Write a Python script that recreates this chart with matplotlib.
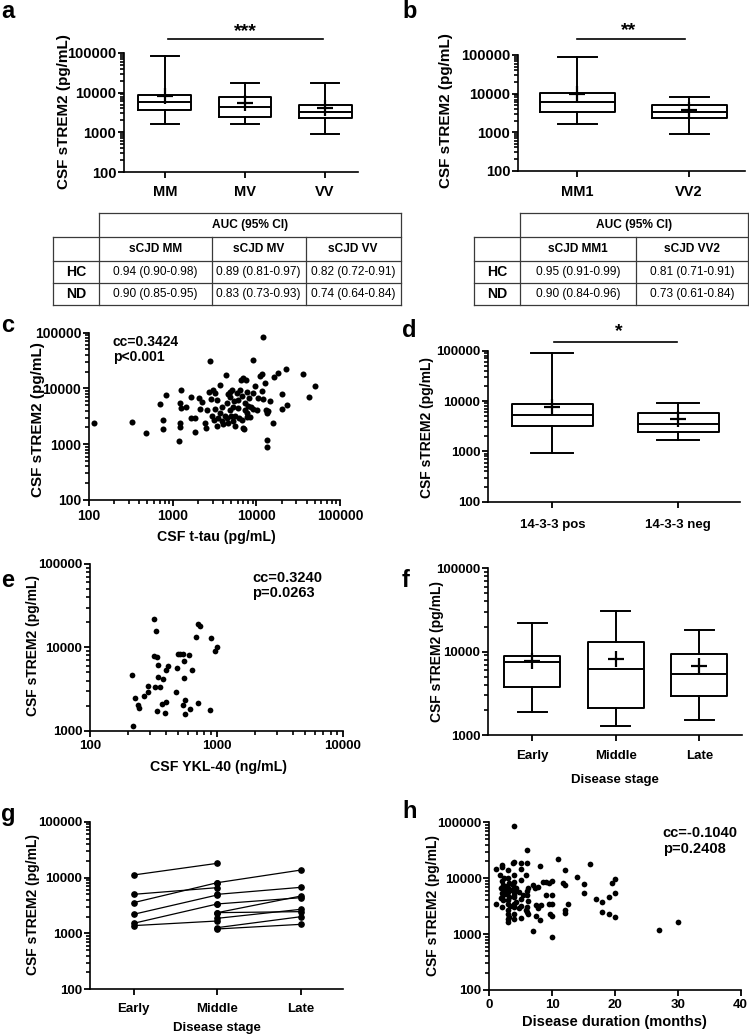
import numpy as np
import matplotlib
matplotlib.use('Agg')
import matplotlib.pyplot as plt
from matplotlib import font_manager
from matplotlib.ticker import NullFormatter, FuncFormatter, FixedLocator

plt.rcParams['font.family'] = ['Liberation Sans', 'DejaVu Sans']
plt.rcParams['font.weight'] = 'bold'
plt.rcParams['axes.labelweight'] = 'bold'
plt.rcParams['axes.linewidth'] = 1.2

# ---- panel a: sTREM2 by codon 129 genotype
a_groups = ['MM', 'MV', 'VV']
a_whislo = [1600, 1620, 890]
a_q1 = [3670, 2500, 2290]
a_med = [5750, 4290, 3200]
a_q3 = [8700, 7650, 4800]
a_whishi = [84000, 17900, 17400]
a_mean = [8400, 5600, 4050]

# ---- panel b: by subtype
b_groups = ['MM1', 'VV2']
b_whislo = [1630, 890]
b_q1 = [3280, 2290]
b_med = [5950, 3280]
b_q3 = [10200, 4980]
b_whishi = [87000, 8300]
b_mean = [9550, 3760]

# ---- AUC tables
ta_cols = ['sCJD MM', 'sCJD MV', 'sCJD VV']
ta_rows = ['HC', 'ND']
ta_cells = [['0.94 (0.90-0.98)', '0.89 (0.81-0.97)', '0.82 (0.72-0.91)'],
            ['0.90 (0.85-0.95)', '0.83 (0.73-0.93)', '0.74 (0.64-0.84)']]
tb_cols = ['sCJD MM1', 'sCJD VV2']
tb_rows = ['HC', 'ND']
tb_cells = [['0.95 (0.91-0.99)', '0.81 (0.71-0.91)'],
            ['0.90 (0.84-0.96)', '0.73 (0.61-0.84)']]
auc_header = 'AUC (95% CI)'

# ---- panel c: t-tau vs sTREM2
c_tau = [116, 327, 476, 706, 773, 773, 825, 1180, 1260, 1235,
         1260, 1235, 1235, 1445, 1655, 1655, 1850, 1850, 2080, 2120,
         2220, 2430, 2500, 2740, 2790, 2850, 2980, 3060, 3120, 3210,
         3210, 3360, 3515, 3680, 3680, 3855, 4035, 4220, 4340, 4420,
         4540, 4630, 4840, 4980, 5170, 5310, 5460, 5560, 5820, 5980,
         6260, 6500, 6740, 6870, 7000, 7130, 7320, 7460, 7660, 7800,
         7800, 8020, 8250, 8560, 9040, 9210, 9640, 10560, 11060, 11580,
         11800, 11910, 12130, 12700, 12940, 13300, 13530, 13530, 13900, 14560,
         15960, 16260, 18330, 20090, 20090, 22640, 23060, 36460, 42980, 50230,
         2550, 3855, 4840, 5310, 6090, 6680, 8400, 10090, 9210, 3360,
         6380, 7320, 4420, 5560, 4840]
c_trem2 = [2370, 2470, 1610, 5200, 2720, 1850, 7640, 1145, 9270, 5420,
           4530, 2440, 2040, 4720, 6930, 3000, 3000, 1635, 6650, 4290,
           5640, 2440, 1930, 8770, 31500, 6390, 3260, 9390, 2720, 8410,
           4230, 2125, 2915, 11380, 3580, 2610, 2275, 3210, 17420, 5420,
           7850, 2370, 8770, 3210, 9390, 2610, 5960, 2125, 8180, 4400,
           2915, 14190, 7330, 1985, 15200, 1850, 5420, 14190, 8770, 3580,
           3125, 4850, 6650, 4590, 32400, 4230, 11070, 6650, 16720, 17910,
           9140, 85000, 6390, 12700, 4110, 3680, 1190, 906, 4000, 6040,
           2370, 15850, 19190, 7850, 4230, 22030, 5050, 18160, 7130, 11070,
           4110, 4720, 4110, 4720, 6210, 2720, 3125, 4110, 8180, 6210,
           9390, 4110, 2915, 3210, 7130]
c_stats = 'cc=0.3424\np<0.001'

# ---- panel d: 14-3-3
d_groups = ['14-3-3 pos', '14-3-3 neg']
d_whislo = [912, 1655]
d_q1 = [3190, 2460]
d_med = [5190, 3440]
d_q3 = [8590, 5690]
d_whishi = [88500, 9120]
d_mean = [7710, 4390]

# ---- panel e: YKL-40 vs sTREM2
e_ykl = [220, 216, 227, 241, 245, 267, 289, 289, 322, 330,
         322, 336, 342, 342, 326, 357, 336, 368, 379, 396,
         396, 415, 391, 477, 489, 492, 514, 539, 545, 556,
         556, 562, 562, 608, 616, 635, 683, 708, 738, 717,
         886, 897, 970, 1012]
e_trem2 = [1148, 4656, 2443, 2032, 1854, 2606, 3436, 2884, 22080, 15850,
           7940, 7590, 6140, 4446, 3373, 3373, 1738, 2089, 4130, 2188,
           5346, 6026, 1614, 2938, 5598, 8395, 8318, 8395, 2032, 6855,
           4246, 2333, 1585, 8091, 1837, 5346, 13430, 18880, 18030, 2128,
           1786, 13060, 9120, 10000]
e_stats = 'cc=0.3240\np=0.0263'

# ---- panel f: disease stage
f_groups = ['Early', 'Middle', 'Late']
f_whislo = [1888, 1282, 1500]
f_q1 = [3800, 2128, 2965]
f_med = [7450, 6140, 5350]
f_q3 = [8950, 13180, 9290]
f_whishi = [21900, 31050, 18200]
f_mean = [7800, 8090, 6730]

# ---- panel g: longitudinal samples
g_stages = ['Early', 'Middle', 'Late']
g_em_early = [11120, 5010, 3555, 2200, 1518, 1380]
g_em_middle = [17990, 6600, 8100, 4880, 3370, 1670]
g_ml_middle = [8100, 5010, 3370, 2355, 2355, 1865, 1270, 1202]
g_ml_late = [13650, 6690, 4370, 4680, 2455, 2705, 1995, 1456]

# ---- panel h: disease duration vs sTREM2
h_months = [1.0, 1.0,
            2.0, 2.0, 1.7, 2.3, 2.0, 2.2, 1.9, 2.5, 2.0, 2.3, 2.0, 1.8, 2.2, 2.0,
            3.0, 3.0, 3.2, 2.8, 3.0, 3.3, 3.0, 2.8, 3.2, 3.0, 3.0, 3.3, 3.0, 3.0, 3.2, 3.0, 3.0,
            4.0, 4.0, 3.8, 4.0, 4.0, 3.8, 4.2, 4.0, 4.0, 3.9, 4.0, 4.3, 4.0, 4.0, 4.0, 4.0,
            5.0, 5.0, 5.0, 4.8, 5.3, 5.0, 5.0, 4.7, 5.0,
            6.0, 6.0, 5.8, 6.2, 6.0, 6.0, 6.2, 6.0, 5.8, 6.0, 6.2,
            7.0, 7.3, 7.5, 7.0,
            8.0, 8.5, 7.8, 8.2, 7.8, 7.5, 8.0,
            9.0, 9.5, 9.0, 9.5,
            10.0, 10.0, 10.0, 9.6, 10.0, 10.0,
            11.0,
            12.0, 11.8, 12.0, 12.0, 12.0,
            12.5, 14.0, 15.0, 15.0, 16.0, 17.0, 18.0, 18.0, 19.0, 19.0, 19.5,
            20.0, 20.0, 20.0, 27.0, 30.0]
h_trem2 = [14620, 3460,
           17250, 16100, 11420, 9960, 8930, 7570, 6780, 6160, 5520, 5220, 4680, 4370, 4080, 3100,
           14030, 9960, 8110, 7260, 6590, 6160, 5750, 5220, 4680, 4080, 3460, 3230, 2700, 2290, 2050, 1840, 1630,
           87200, 19790, 18480, 11420, 8690, 7570, 6780, 6410, 5750, 5010, 4680, 3810, 3410, 3100, 2260, 1840,
           18480, 14620, 9290, 5600, 5010, 4200, 3230, 2900, 1970,
           31990, 18980, 11420, 6780, 5910, 5010, 3920, 3100, 2700, 2455, 2290,
           7570, 6590, 3320, 1150,
           16560, 8690, 7060, 3320, 2900, 2140, 1790,
           8690, 8110, 5010, 3460,
           9040, 5010, 3460, 2260, 2140, 900,
           22390,
           14030, 8330, 7570, 2700, 2420,
           3460, 10370, 7780, 5520, 17730, 4250, 3710, 2520, 4550, 2290, 8330,
           9550, 5370, 2050, 1190, 1670]
h_stats = 'cc=-0.1040\np=0.2408'

YLABEL = 'CSF sTREM2 (pg/mL)'
FIG_W, FIG_H = 749, 1036

fig = plt.figure(figsize=(FIG_W / 100, FIG_H / 100), dpi=100)


def add_axes_px(x0, y0, x1, y1):
    return fig.add_axes([x0 / FIG_W, 1 - y1 / FIG_H, (x1 - x0) / FIG_W, (y1 - y0) / FIG_H])


def style(ax, size, xpad=3):
    ax.spines['top'].set_visible(False)
    ax.spines['right'].set_visible(False)
    ax.tick_params(which='major', length=4, width=1.3, labelsize=size, color='k')
    ax.tick_params(which='minor', length=3, width=1.2, color='k')
    ax.tick_params(axis='y', which='major', pad=1.5)
    ax.tick_params(axis='x', which='major', pad=xpad)


def log_axis(axis, lo, hi):
    d0, d1 = int(round(np.log10(lo))), int(round(np.log10(hi)))
    majors = [10.0 ** d for d in range(d0, d1 + 1)]
    minors = [k * 10.0 ** d for d in range(d0, d1) for k in range(2, 10)]
    axis.set_major_locator(FixedLocator(majors))
    axis.set_minor_locator(FixedLocator(minors))
    axis.set_major_formatter(FuncFormatter(lambda v, p: '%d' % round(v)))
    axis.set_minor_formatter(NullFormatter())


def set_logy(ax, lo, hi):
    ax.set_yscale('log')
    ax.set_ylim(lo, hi)
    log_axis(ax.yaxis, lo, hi)


def boxes(ax, labels, whislo, q1, med, q3, whishi, mean, width):
    stats = []
    for i in range(len(labels)):
        stats.append(dict(label=labels[i], whislo=whislo[i], q1=q1[i], med=med[i],
                          q3=q3[i], whishi=whishi[i], mean=mean[i], fliers=[]))
    lp = dict(color='k', lw=1.4)
    ax.bxp(stats, positions=range(len(labels)), widths=width, capwidths=width * 0.52,
           showmeans=True, showfliers=False, boxprops=lp, whiskerprops=lp, capprops=lp,
           medianprops=lp,
           meanprops=dict(marker='+', markeredgecolor='k', markersize=11, markeredgewidth=1.6))


def sig_bar(ax, x0, x1, y, stars, xs, ys):
    tr = ax.get_xaxis_transform()
    ax.plot([x0, x1], [y, y], color='k', lw=1.2, transform=tr, clip_on=False)
    ax.text(xs, ys, stars, transform=tr, ha='center', va='baseline', fontsize=14)


def ylab(ax, x, y, size):
    ax.set_ylabel(YLABEL, fontsize=size)
    ax.yaxis.label.set_va('center')
    ax.yaxis.set_label_coords(x, y)


def xlab(ax, text, x, y, size):
    ax.set_xlabel(text, fontsize=size)
    ax.xaxis.label.set_va('center')
    ax.xaxis.set_label_coords(x, y)


# ---------------- a
ax = add_axes_px(124, 53, 358, 172)
boxes(ax, a_groups, a_whislo, a_q1, a_med, a_q3, a_whishi, a_mean, 0.66)
set_logy(ax, 100, 1e5)
ax.set_xlim(-0.51, 2.41)
style(ax, 10.5, xpad=5.5)
ylab(ax, -0.256, 0.508, 11)
sig_bar(ax, 0.04, 1.975, 1.118, '***', 1.0, 1.143)

# ---------------- b
ax = add_axes_px(518, 55, 745, 170.7)
boxes(ax, b_groups, b_whislo, b_q1, b_med, b_q3, b_whishi, b_mean, 0.67)
set_logy(ax, 100, 1e5)
ax.set_xlim(-0.53, 1.5)
style(ax, 10.5, xpad=6)
ylab(ax, -0.318, 0.518, 11)
sig_bar(ax, 0.0, 0.96, 1.138, '**', 0.455, 1.175)

# ---------------- c
ax = add_axes_px(89, 332.7, 340, 500)
ax.scatter(c_tau, c_trem2, s=19, color='k', linewidths=0, clip_on=False, zorder=3)
ax.set_xscale('log')
ax.set_xlim(100, 1e5)
log_axis(ax.xaxis, 100, 1e5)
set_logy(ax, 100, 1e5)
style(ax, 10, xpad=2.5)
ylab(ax, -0.203, 0.48, 11)
xlab(ax, 'CSF t-tau (pg/mL)', 0.506, -0.221, 10.2)
ax.text(0.094, 0.985, c_stats, transform=ax.transAxes, ha='left', va='top',
        fontsize=10, linespacing=1.1)

# ---------------- d
ax = add_axes_px(488, 350.7, 740, 501.7)
boxes(ax, d_groups, d_whislo, d_q1, d_med, d_q3, d_whishi, d_mean, 0.64)
set_logy(ax, 100, 1e5)
ax.set_xlim(-0.51, 1.49)
style(ax, 9.5, xpad=8.5)
ylab(ax, -0.242, 0.49, 10)
sig_bar(ax, 0.01, 0.99, 1.06, '*', 0.524, 1.098)

# ---------------- e
ax = add_axes_px(90, 564, 343, 730.7)
ax.scatter(e_ykl, e_trem2, s=17, color='k', linewidths=0, clip_on=False, zorder=3)
ax.set_xscale('log')
ax.set_xlim(100, 1e4)
log_axis(ax.xaxis, 100, 1e4)
set_logy(ax, 1000, 1e5)
style(ax, 9.5, xpad=3)
ylab(ax, -0.225, 0.514, 10)
xlab(ax, 'CSF YKL-40 (ng/mL)', 0.506, -0.218, 10.2)
ax.text(0.64, 0.96, e_stats, transform=ax.transAxes, ha='left', va='top',
        fontsize=10.5, linespacing=1.1)

# ---------------- f
ax = add_axes_px(488, 568.3, 742, 735)
boxes(ax, f_groups, f_whislo, f_q1, f_med, f_q3, f_whishi, f_mean, 0.67)
set_logy(ax, 1000, 1e5)
ax.set_xlim(-0.53, 2.51)
style(ax, 9.5, xpad=6.5)
ylab(ax, -0.202, 0.498, 10)
xlab(ax, 'Disease stage', 0.5, -0.27, 9.5)

# ---------------- g
ax = add_axes_px(90, 821.7, 343, 989.3)
for e_val, m_val in zip(g_em_early, g_em_middle):
    ax.plot([0, 1], [e_val, m_val], color='k', lw=0.9, marker='o', ms=3.8)
for m_val, l_val in zip(g_ml_middle, g_ml_late):
    ax.plot([1, 2], [m_val, l_val], color='k', lw=0.9, marker='o', ms=3.8)
set_logy(ax, 100, 1e5)
ax.set_xlim(-0.52, 2.5)
ax.xaxis.set_major_locator(FixedLocator([0, 1, 2]))
ax.set_xticklabels(g_stages)
style(ax, 9.5, xpad=6)
ylab(ax, -0.225, 0.503, 10)
xlab(ax, 'Disease stage', 0.5, -0.231, 9.5)

# ---------------- h
ax = add_axes_px(489.3, 822.3, 740.5, 990)
ax.scatter(h_months, h_trem2, s=17, color='k', linewidths=0, clip_on=False, zorder=3)
ax.set_xlim(0, 40)
ax.set_xticks([0, 10, 20, 30, 40])
set_logy(ax, 100, 1e5)
style(ax, 9.5, xpad=2.5)
ylab(ax, -0.223, 0.506, 10)
xlab(ax, 'Disease duration (months)', 0.5, -0.19, 10.5)
ax.text(0.69, 0.975, h_stats, transform=ax.transAxes, ha='left', va='top',
        fontsize=10.5, linespacing=1.1)

# ---------------- tables, drawn on a figure-sized overlay in pixel units
names = {f.name for f in font_manager.fontManager.ttflist}
if 'Liberation Sans Narrow' in names:
    tfam, tsize = 'Liberation Sans Narrow', 10
else:
    tfam, tsize = 'Liberation Sans', 8.6

ov = fig.add_axes([0, 0, 1, 1], zorder=-1)
ov.set_xlim(0, FIG_W)
ov.set_ylim(FIG_H, 0)
ov.axis('off')


def draw_table(xe, ye, header, cols, rows, cells):
    lc = dict(color='#3a3a3a', lw=0.9)
    # header box over the value columns
    ov.plot([xe[1], xe[-1]], [ye[0], ye[0]], **lc)
    for y in ye[1:]:
        ov.plot([xe[0], xe[-1]], [y, y], **lc)
    for i, x in enumerate(xe):
        top = ye[0] if i in (1, len(xe) - 1) else ye[1]
        ov.plot([x, x], [top, ye[-1]], **lc)
    ov.text((xe[1] + xe[-1]) / 2, (ye[0] + ye[1]) / 2, header, ha='center', va='center',
            family=tfam, fontsize=tsize, weight='bold')
    for j, c in enumerate(cols):
        ov.text((xe[j + 1] + xe[j + 2]) / 2, (ye[1] + ye[2]) / 2, c, ha='center', va='center',
                family=tfam, fontsize=tsize, weight='bold')
    for i, r in enumerate(rows):
        yc = (ye[i + 2] + ye[i + 3]) / 2
        ov.text((xe[0] + xe[1]) / 2, yc, r, ha='center', va='center',
                family=tfam, fontsize=tsize + 1.5, weight='bold')
        for j, v in enumerate(cells[i]):
            ov.text((xe[j + 1] + xe[j + 2]) / 2, yc, v, ha='center', va='center',
                    family=tfam, fontsize=tsize, weight='normal')


tab_y = [213, 237, 261, 282.5, 304.5]
draw_table([53, 99, 211.5, 305.5, 400.5], tab_y, auc_header, ta_cols, ta_rows, ta_cells)
draw_table([474, 520, 635.5, 748], tab_y, auc_header, tb_cols, tb_rows, tb_cells)

# ---------------- panel letters
letters = [('a', 1, 18), ('b', 402, 18), ('c', 1, 331.7), ('d', 402, 336.7),
           ('e', 1, 586.7), ('f', 402, 586.7), ('g', 1, 820.7), ('h', 402, 818)]
for lab, x, y in letters:
    fig.text(x / FIG_W, 1 - y / FIG_H, lab, fontsize=17, weight='bold', va='baseline', ha='left')

fig.savefig('out.png', dpi=100)
